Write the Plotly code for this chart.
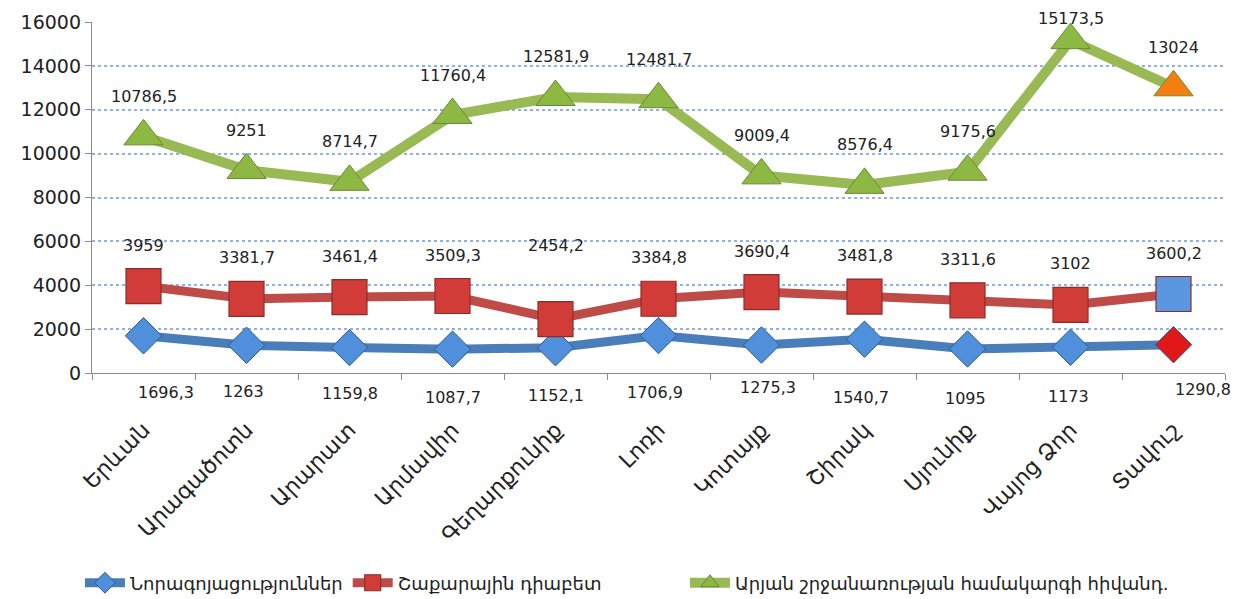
import plotly.graph_objects as go

regions = ["Երևան", "Արագածոտն", "Արարատ", "Արմավիր", "Գեղարքունիք", "Լոռի",
           "Կոտայք", "Շիրակ", "Սյունիք", "Վայոց Ձոր", "Տավուշ"]
neoplasms = [1696.3, 1263, 1159.8, 1087.7, 1152.1, 1706.9, 1275.3, 1540.7, 1095, 1173, 1290.8]
diabetes = [3959, 3381.7, 3461.4, 3509.3, 2454.2, 3384.8, 3690.4, 3481.8, 3311.6, 3102, 3600.2]
circulatory = [10786.5, 9251, 8714.7, 11760.4, 12581.9, 12481.7, 9009.4, 8576.4, 9175.6, 15173.5, 13024]
series_names = ["Նորագոյացություններ", "Շաքարային դիաբետ", "Արյան շրջանառության համակարգի հիվանդ."]
y_ticks = [0, 2000, 4000, 6000, 8000, 10000, 12000, 14000, 16000]

# label placement (style)
blue_dx = [22, -3, 0, 0, 0, -4, 6, -4, -2, -2, 29]
blue_dy = [19, 18, 20, 24, 22, 19, 14, 24, 25, 23, 16]
red_dy = [41, 41, 41, 41, 74, 41, 41, 41, 41, 41, 41]
green_dy = [40, 40, 40, 40, 40, 40, 40, 40, 40, 22, 40]


def fmt(v):
    return f"{v:g}".replace(".", ",")


BLUE, RED, GREEN = "#4A7EBB", "#BE4B48", "#98B954"
n = len(regions)

fig = go.Figure()
fig.add_trace(go.Scatter(
    x=regions, y=neoplasms, name=series_names[0], mode="lines+markers", legend="legend",
    line=dict(color=BLUE, width=9),
    marker=dict(symbol="diamond", size=28,
                color=["#4F8FDB"] * (n - 1) + ["#E01818"],
                line=dict(color="#2F5A8F", width=1)),
))
fig.add_trace(go.Scatter(
    x=regions, y=diabetes, name=series_names[1], mode="lines+markers", legend="legend2",
    line=dict(color=RED, width=9),
    marker=dict(symbol="square", size=35,
                color=["#D13B38"] * (n - 1) + ["#5B97E0"],
                line=dict(color="#8C2D2A", width=1.2)),
))
fig.add_trace(go.Scatter(
    x=regions, y=circulatory, name=series_names[2], mode="lines+markers", legend="legend3",
    line=dict(color=GREEN, width=10),
    marker=dict(symbol="triangle-up", size=34,
                color=["#8DB843"] * (n - 1) + ["#F47E12"],
                line=dict(color="#6A8A35", width=1)),
))

ann = []
for i in range(n):
    ann.append(dict(x=regions[i], y=0, yref="y", text=fmt(neoplasms[i]), showarrow=False,
                    xshift=blue_dx[i], yshift=-blue_dy[i],
                    font=dict(size=16, color="#222")))
    ann.append(dict(x=regions[i], y=diabetes[i], text=fmt(diabetes[i]), showarrow=False,
                    yshift=red_dy[i], font=dict(size=16, color="#222")))
    ann.append(dict(x=regions[i], y=circulatory[i], text=fmt(circulatory[i]), showarrow=False,
                    yshift=green_dy[i], font=dict(size=16, color="#222")))


def leg(x):
    return dict(orientation="h", x=x, xref="container", xanchor="left",
                y=0.040, yref="container", yanchor="middle",
                font=dict(size=18, color="#222"), itemwidth=40,
                bgcolor="rgba(0,0,0,0)")


fig.update_layout(
    width=1249, height=599,
    margin=dict(l=84, r=32, t=14, b=234, autoexpand=False),
    paper_bgcolor="white", plot_bgcolor="white",
    font=dict(family="DejaVu Sans", color="#222"),
    annotations=ann,
    showlegend=True,
    legend=leg(0.0576), legend2=leg(0.272), legend3=leg(0.542),
    xaxis=dict(
        type="category", range=[-0.5, n - 0.5], automargin=False,
        tickangle=-45, tickfont=dict(size=22, color="#222"),
        showline=True, linecolor="#8C8C8C", linewidth=1.3,
        ticks="outside", tickson="boundaries", ticklen=6, tickcolor="#8C8C8C",
        ticklabelstandoff=34, showgrid=False,
    ),
    yaxis=dict(
        range=[0, 16000], tickvals=y_ticks, ticktext=[str(t) for t in y_ticks],
        automargin=False,
        tickfont=dict(size=19, color="#222"),
        showline=True, linecolor="#8C8C8C", linewidth=1.3,
        ticks="outside", ticklen=6, tickcolor="#8C8C8C",
        showgrid=True, gridcolor="#8FB2E3", griddash="dot", gridwidth=1.5,
        zeroline=False,
    ),
)

fig.write_html("out.html")
